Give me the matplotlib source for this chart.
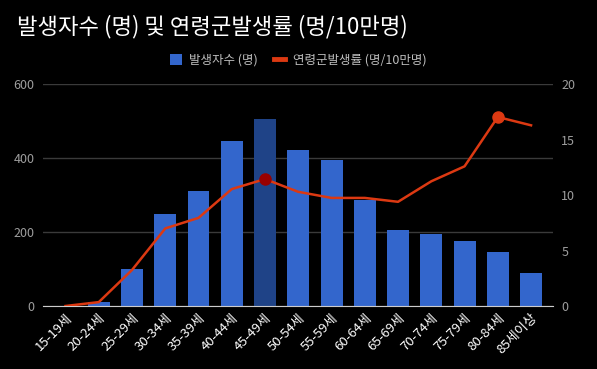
import matplotlib
matplotlib.use("Agg")
import matplotlib.pyplot as plt
from matplotlib.lines import Line2D
from matplotlib.patches import Patch

plt.rcParams['font.family'] = ['Noto Sans CJK KR', 'DejaVu Sans']

# ---------- data ----------
ages = ["15-19세", "20-24세", "25-29세", "30-34세", "35-39세", "40-44세", "45-49세",
        "50-54세", "55-59세", "60-64세", "65-69세", "70-74세", "75-79세", "80-84세", "85세이상"]
cases = [1, 10, 99, 250, 310, 446, 507, 423, 396, 286, 205, 196, 176, 145, 89]
rates = [0.0, 0.35, 3.25, 7.0, 7.95, 10.55, 11.45, 10.3, 9.75, 9.75, 9.4, 11.25, 12.6, 17.05, 16.3]

bar_color = "#3366cc"
hi_bar_color = "#1f4387"
line_color = "#dc3912"
grid_color = "#3a3a3a"
tick_color = "#9e9e9e"

fig = plt.figure(figsize=(5.97, 3.69), dpi=100, facecolor="black")
ax = fig.add_axes([43 / 597, 1 - 306 / 369, 510 / 597, (306 - 84.3) / 369])
ax.set_facecolor("black")

x = list(range(len(ages)))
colors = [hi_bar_color if i == 6 else bar_color for i in x]
ax.bar(x, cases, width=0.66, color=colors, zorder=2)

ax.set_ylim(0, 600)
ax.set_yticks([0, 200, 400, 600])
ax.set_xlim(-0.677, 14.66)
ax.grid(axis="y", color=grid_color, linewidth=1, zorder=0)
for s in ["top", "right", "left"]:
    ax.spines[s].set_visible(False)
ax.spines["bottom"].set_color("#cccccc")
ax.spines["bottom"].set_zorder(3)
ax.tick_params(axis="y", length=0, colors=tick_color, labelsize=9, pad=6)
ax.tick_params(axis="x", length=0, colors="white", labelsize=9.5, pad=4)
ax.set_xticks(x)
ax.set_xticklabels(ages, rotation=45, ha="right", rotation_mode="anchor")

ax2 = ax.twinx()
ax2.set_ylim(0, 20)
ax2.set_yticks([0, 5, 10, 15, 20])
for s in ax2.spines.values():
    s.set_visible(False)
ax2.tick_params(axis="y", length=0, colors=tick_color, labelsize=9, pad=6)
ax2.plot(x, rates, color=line_color, linewidth=1.8, zorder=4)
ax2.plot(x[6], rates[6], "o", color="#990000", markersize=8, zorder=5)
ax2.plot(x[13], rates[13], "o", color=line_color, markersize=8, zorder=5)

fig.text(17 / 597, 1 - 27 / 369, "발생자수 (명) 및 연령군발생률 (명/10만명)",
         color="white", fontsize=16, va="center", ha="left")

handles = [Patch(facecolor=bar_color, edgecolor="none"),
           Line2D([0], [0], color=line_color, linewidth=3.5)]
leg = fig.legend(handles, ["발생자수 (명)", "연령군발생률 (명/10만명)"],
                 loc="center", bbox_to_anchor=(0.5, 1 - 60 / 369), ncol=2,
                 frameon=False, fontsize=9, labelcolor="#bdbdbd",
                 handlelength=0.9, handleheight=1.0, handletextpad=0.6,
                 columnspacing=1.3)

fig.savefig("out.png", dpi=100, facecolor="black")
